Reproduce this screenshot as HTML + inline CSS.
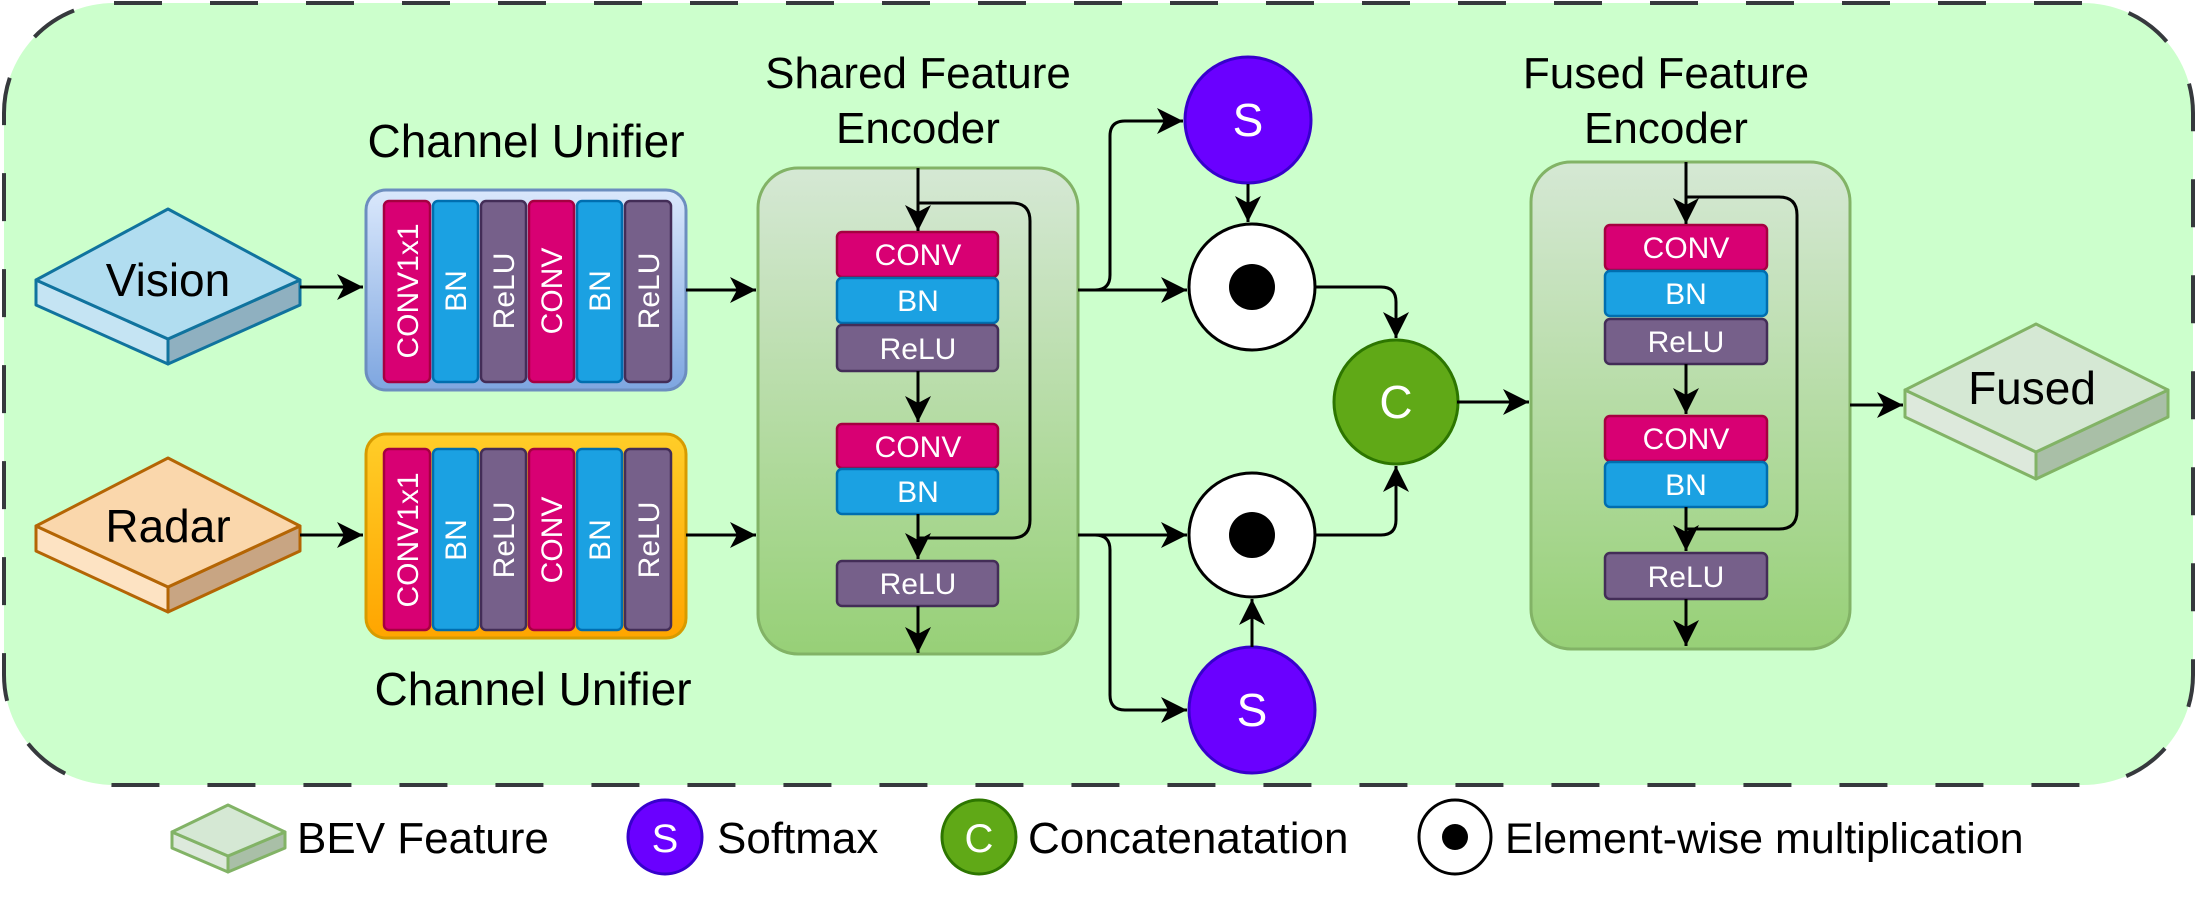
<!DOCTYPE html>
<html><head><meta charset="utf-8"><style>
html,body{margin:0;padding:0;background:#fff;}
svg{display:block;}
text{font-family:"Liberation Sans",Arial,sans-serif;}
</style></head><body>
<svg width="2196" height="900" viewBox="0 0 2196 900" xmlns="http://www.w3.org/2000/svg">
<defs>
<marker id="a" markerUnits="userSpaceOnUse" markerWidth="28" markerHeight="26" refX="26" refY="13" orient="auto">
<path d="M0,0 L26,13 L0,26 L7,13 z" fill="#000"/>
</marker>
<linearGradient id="gs" x1="0" y1="0" x2="0" y2="1"><stop offset="0" stop-color="#d5e8d4"/><stop offset="1" stop-color="#97d077"/></linearGradient>
<linearGradient id="gv" x1="0" y1="0" x2="0" y2="1"><stop offset="0" stop-color="#dae8fc"/><stop offset="1" stop-color="#7ea6e0"/></linearGradient>
<linearGradient id="gr" x1="0" y1="0" x2="0" y2="1"><stop offset="0" stop-color="#ffcd28"/><stop offset="1" stop-color="#ffa500"/></linearGradient>
</defs>

<rect x="4" y="3" width="2189" height="782" rx="110" ry="110" fill="#ccffcc" stroke="#36393d" stroke-width="4" stroke-dasharray="48 48"/>

<!-- Vision -->
<g stroke="#10739e" stroke-width="3" stroke-linejoin="round">
<polygon points="36,280 168,339 168,364 36,305" fill="#c5e4f3"/>
<polygon points="168,339 300,280 300,305 168,364" fill="#8fb0c0"/>
<polygon points="36,280 168,209 300,280 168,339" fill="#b1ddf0"/>
</g>
<text x="168" y="296" font-size="46" text-anchor="middle">Vision</text>
<!-- Radar -->
<g stroke="#b46504" stroke-width="3" stroke-linejoin="round">
<polygon points="36,526 168,587 168,612 36,551" fill="#fde3c3"/>
<polygon points="168,587 300,526 300,551 168,612" fill="#c8a583"/>
<polygon points="36,526 168,458 300,526 168,587" fill="#fad7ac"/>
</g>
<text x="168" y="542" font-size="46" text-anchor="middle">Radar</text>

<!-- unifiers -->
<text x="526" y="157" font-size="46" text-anchor="middle">Channel Unifier</text>
<text x="533" y="705" font-size="46" text-anchor="middle">Channel Unifier</text>
<rect x="366" y="190" width="320" height="200" rx="20" fill="url(#gv)" stroke="#6c8ebf" stroke-width="3"/>
<rect x="366" y="434" width="320" height="204" rx="20" fill="url(#gr)" stroke="#d79b00" stroke-width="3"/>
<g stroke-width="2.5">
<rect x="384" y="201" width="46" height="181" rx="5" fill="#d80073" stroke="#a50040"/>
<rect x="433" y="201" width="45" height="181" rx="5" fill="#1ba1e2" stroke="#006eaf"/>
<rect x="481" y="201" width="45" height="181" rx="5" fill="#76608a" stroke="#432d57"/>
<rect x="529" y="201" width="45" height="181" rx="5" fill="#d80073" stroke="#a50040"/>
<rect x="577" y="201" width="45" height="181" rx="5" fill="#1ba1e2" stroke="#006eaf"/>
<rect x="625" y="201" width="46" height="181" rx="5" fill="#76608a" stroke="#432d57"/>
<rect x="384" y="449" width="46" height="181" rx="5" fill="#d80073" stroke="#a50040"/>
<rect x="433" y="449" width="45" height="181" rx="5" fill="#1ba1e2" stroke="#006eaf"/>
<rect x="481" y="449" width="45" height="181" rx="5" fill="#76608a" stroke="#432d57"/>
<rect x="529" y="449" width="45" height="181" rx="5" fill="#d80073" stroke="#a50040"/>
<rect x="577" y="449" width="45" height="181" rx="5" fill="#1ba1e2" stroke="#006eaf"/>
<rect x="625" y="449" width="46" height="181" rx="5" fill="#76608a" stroke="#432d57"/>
</g>
<g fill="#fff" font-size="30" text-anchor="middle">
<text transform="translate(418,291) rotate(-90)">CONV1x1</text>
<text transform="translate(466,291) rotate(-90)">BN</text>
<text transform="translate(514,291) rotate(-90)">ReLU</text>
<text transform="translate(562,291) rotate(-90)">CONV</text>
<text transform="translate(610,291) rotate(-90)">BN</text>
<text transform="translate(659,291) rotate(-90)">ReLU</text>
<text transform="translate(418,540) rotate(-90)">CONV1x1</text>
<text transform="translate(466,540) rotate(-90)">BN</text>
<text transform="translate(514,540) rotate(-90)">ReLU</text>
<text transform="translate(562,540) rotate(-90)">CONV</text>
<text transform="translate(610,540) rotate(-90)">BN</text>
<text transform="translate(659,540) rotate(-90)">ReLU</text>
</g>

<!-- Shared encoder -->
<text x="918" y="88" font-size="44" text-anchor="middle">Shared Feature</text>
<text x="918" y="143" font-size="44" text-anchor="middle">Encoder</text>
<rect x="758" y="168" width="320" height="486" rx="40" fill="url(#gs)" stroke="#82b366" stroke-width="3"/>
<g stroke-width="2.5">
<rect x="837" y="232" width="161" height="45" rx="5" fill="#d80073" stroke="#a50040"/>
<rect x="837" y="278" width="161" height="45" rx="5" fill="#1ba1e2" stroke="#006eaf"/>
<rect x="837" y="325" width="161" height="46" rx="5" fill="#76608a" stroke="#432d57"/>
<rect x="837" y="424" width="161" height="44" rx="5" fill="#d80073" stroke="#a50040"/>
<rect x="837" y="469" width="161" height="45" rx="5" fill="#1ba1e2" stroke="#006eaf"/>
<rect x="837" y="561" width="161" height="45" rx="5" fill="#76608a" stroke="#432d57"/>
</g>
<g fill="#fff" font-size="30" text-anchor="middle">
<text x="918" y="265">CONV</text><text x="918" y="311">BN</text><text x="918" y="359">ReLU</text>
<text x="918" y="457">CONV</text><text x="918" y="502">BN</text><text x="918" y="594">ReLU</text>
</g>

<!-- Fused encoder -->
<text x="1666" y="88" font-size="44" text-anchor="middle">Fused Feature</text>
<text x="1666" y="143" font-size="44" text-anchor="middle">Encoder</text>
<rect x="1531" y="162" width="319" height="487" rx="40" fill="url(#gs)" stroke="#82b366" stroke-width="3"/>
<g stroke-width="2.5">
<rect x="1605" y="225" width="162" height="45" rx="5" fill="#d80073" stroke="#a50040"/>
<rect x="1605" y="271" width="162" height="45" rx="5" fill="#1ba1e2" stroke="#006eaf"/>
<rect x="1605" y="319" width="162" height="45" rx="5" fill="#76608a" stroke="#432d57"/>
<rect x="1605" y="416" width="162" height="45" rx="5" fill="#d80073" stroke="#a50040"/>
<rect x="1605" y="462" width="162" height="45" rx="5" fill="#1ba1e2" stroke="#006eaf"/>
<rect x="1605" y="553" width="162" height="46" rx="5" fill="#76608a" stroke="#432d57"/>
</g>
<g fill="#fff" font-size="30" text-anchor="middle">
<text x="1686" y="258">CONV</text><text x="1686" y="304">BN</text><text x="1686" y="352">ReLU</text>
<text x="1686" y="449">CONV</text><text x="1686" y="495">BN</text><text x="1686" y="587">ReLU</text>
</g>

<!-- Fused output -->
<g stroke="#82b366" stroke-width="3" stroke-linejoin="round">
<polygon points="1905,390 2036,452 2036,479 1905,417" fill="#dde9dc"/>
<polygon points="2036,452 2168,390 2168,417 2036,479" fill="#a9bfa7"/>
<polygon points="1905,390 2036,324 2168,390 2036,452" fill="#d5e8d4"/>
</g>
<text x="2032" y="404" font-size="46" text-anchor="middle">Fused</text>

<!-- circles -->
<g stroke-width="3">
<ellipse cx="1248" cy="120" rx="63" ry="63" fill="#6a00ff" stroke="#3700cc"/>
<ellipse cx="1252" cy="287" rx="63" ry="63" fill="#fff" stroke="#000"/>
<ellipse cx="1396" cy="402" rx="62" ry="62" fill="#60a917" stroke="#2d7600"/>
<ellipse cx="1252" cy="535" rx="63" ry="62" fill="#fff" stroke="#000"/>
<ellipse cx="1252" cy="710" rx="63" ry="63" fill="#6a00ff" stroke="#3700cc"/>
</g>
<circle cx="1252" cy="287" r="23" fill="#000"/>
<circle cx="1252" cy="535" r="23" fill="#000"/>
<g fill="#fff" font-size="46" text-anchor="middle">
<text x="1248" y="136">S</text><text x="1396" y="418">C</text><text x="1252" y="726">S</text>
</g>

<!-- connectors -->
<g fill="none" stroke="#000" stroke-width="3">
<path d="M300,287 L363,287" marker-end="url(#a)"/>
<path d="M300,535 L363,535" marker-end="url(#a)"/>
<path d="M686,290 L756,290" marker-end="url(#a)"/>
<path d="M686,535 L756,535" marker-end="url(#a)"/>
<path d="M918,168 L918,231" marker-end="url(#a)"/>
<path d="M918,203 L1012,203 Q1030,203 1030,221 L1030,520 Q1030,538 1012,538 L918,538"/>
<path d="M918,371 L918,422" marker-end="url(#a)"/>
<path d="M918,514 L918,559" marker-end="url(#a)"/>
<path d="M918,606 L918,653" marker-end="url(#a)"/>
<path d="M1686,162 L1686,224" marker-end="url(#a)"/>
<path d="M1686,197 L1779,197 Q1797,197 1797,215 L1797,511 Q1797,529 1779,529 L1686,529"/>
<path d="M1686,364 L1686,414" marker-end="url(#a)"/>
<path d="M1686,507 L1686,551" marker-end="url(#a)"/>
<path d="M1686,599 L1686,646" marker-end="url(#a)"/>
<path d="M1078,290 L1187,290" marker-end="url(#a)"/>
<path d="M1095,290 Q1110,290 1110,275 L1110,136 Q1110,121 1125,121 L1183,121" marker-end="url(#a)"/>
<path d="M1248,184 L1248,222" marker-end="url(#a)"/>
<path d="M1315,287 L1381,287 Q1396,287 1396,302 L1396,338" marker-end="url(#a)"/>
<path d="M1078,535 L1187,535" marker-end="url(#a)"/>
<path d="M1095,535 Q1110,535 1110,550 L1110,695 Q1110,710 1125,710 L1187,710" marker-end="url(#a)"/>
<path d="M1252,647 L1252,599" marker-end="url(#a)"/>
<path d="M1315,535 L1381,535 Q1396,535 1396,520 L1396,466" marker-end="url(#a)"/>
<path d="M1457,402 L1529,402" marker-end="url(#a)"/>
<path d="M1850,405 L1903,405" marker-end="url(#a)"/>
</g>

<!-- legend -->
<g stroke="#82b366" stroke-width="3" stroke-linejoin="round">
<polygon points="172,832 228,856 228,872 172,848" fill="#dde9dc"/>
<polygon points="228,856 285,832 285,848 228,872" fill="#a9bfa7"/>
<polygon points="172,832 228,805 285,832 228,856" fill="#d5e8d4"/>
</g>
<text x="297" y="853" font-size="44">BEV Feature</text>
<ellipse cx="665" cy="837" rx="37" ry="37" fill="#6a00ff" stroke="#3700cc" stroke-width="3"/>
<text x="665" y="852" font-size="40" fill="#fff" text-anchor="middle">S</text>
<text x="717" y="853" font-size="44">Softmax</text>
<ellipse cx="979" cy="837" rx="37" ry="37" fill="#60a917" stroke="#2d7600" stroke-width="3"/>
<text x="979" y="852" font-size="40" fill="#fff" text-anchor="middle">C</text>
<text x="1028" y="853" font-size="44">Concatenatation</text>
<ellipse cx="1455" cy="837" rx="36" ry="37" fill="#fff" stroke="#000" stroke-width="3"/>
<circle cx="1455" cy="837" r="13" fill="#000"/>
<text x="1505" y="853" font-size="43">Element-wise multiplication</text>
</svg>
</body></html>
